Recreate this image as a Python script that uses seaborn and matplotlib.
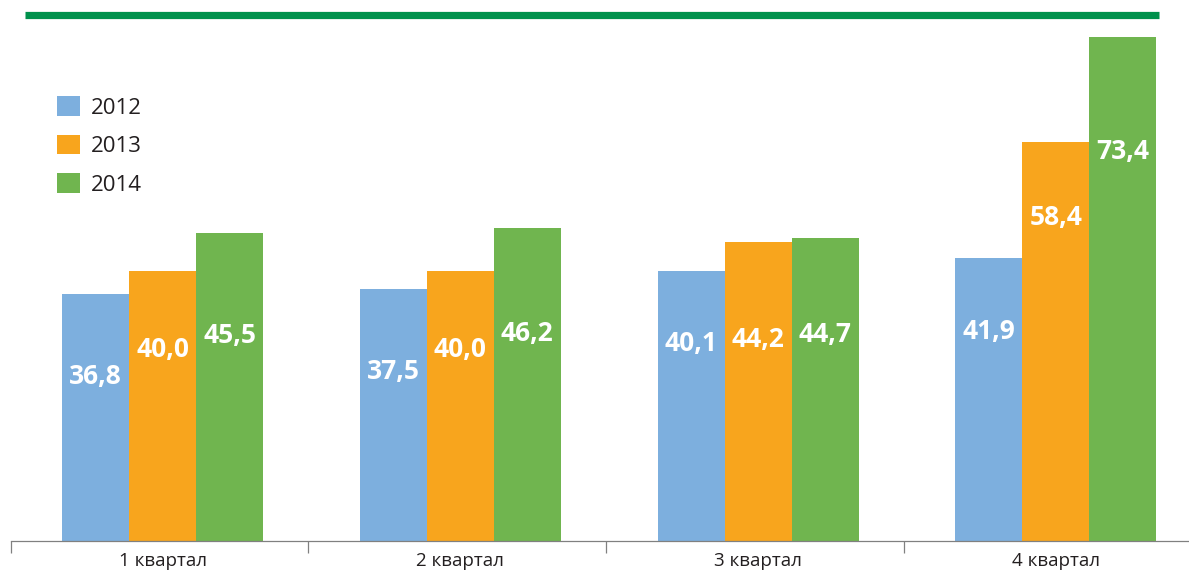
import matplotlib
matplotlib.use("Agg")
import matplotlib.pyplot as plt
from matplotlib.lines import Line2D
from matplotlib.patches import Patch
import seaborn as sns
import pandas as pd

# Quarterly values by year
quarters = ["1 квартал", "2 квартал", "3 квартал", "4 квартал"]
years = ["2012", "2013", "2014"]
values_2012 = [36.8, 37.5, 40.1, 41.9]
values_2013 = [40.0, 40.0, 44.2, 58.4]
values_2014 = [45.5, 46.2, 44.7, 73.4]

colors = ["#7DAFDE", "#F8A51D", "#70B54F"]
rule_color = "#00914C"

# Vertical placement of each value label: pixels below the bar top
label_drop = {
    "2012": [83, 83, 73, 74],
    "2013": [78, 78, 98, 75],
    "2014": [103, 106, 96, 114],
}

df = pd.DataFrame({
    "quarter": quarters * 3,
    "year": [y for y in years for _ in quarters],
    "value": values_2012 + values_2013 + values_2014,
})

sns.set_theme(style="white")
plt.rcParams["font.family"] = ["Open Sans", "DejaVu Sans"]

W, H = 1189, 570
fig = plt.figure(figsize=(W / 100, H / 100), dpi=100)
ax = fig.add_axes([0, 29 / H, 1, 541 / H])

sns.barplot(data=df, x="quarter", y="value", hue="year", order=quarters,
            hue_order=years, palette=colors, saturation=1, width=0.675,
            ax=ax, legend=False, errorbar=None, linewidth=0,
            edgecolor="none")

# Value axis starts slightly above zero
px_per_unit = 7.0
y_floor = 1.47
ax.set_ylim(y_floor, y_floor + 541 / px_per_unit)
group_px, first_center_px = 297.8, 162.5
ax.set_xlim(-first_center_px / group_px, (W - first_center_px) / group_px)

# Value labels inside the bars
for year, cont in zip(years, ax.containers):
    for i, bar in enumerate(cont):
        v = bar.get_height()
        ax.annotate(f"{v:.1f}".replace(".", ","),
                    xy=(bar.get_x() + bar.get_width() / 2, v),
                    xytext=(0, -label_drop[year][i]), textcoords="offset pixels",
                    ha="center", va="center", color="white",
                    fontsize=19, fontweight="bold")

# Axis styling: only a thin baseline with separators between quarters
for side in ["top", "left", "right"]:
    ax.spines[side].set_visible(False)
ax.spines["bottom"].set_color("#808080")
ax.spines["bottom"].set_linewidth(0.9)
ax.spines["bottom"].set_bounds(-0.51, ax.get_xlim()[1])
ax.set_yticks([])
ax.set_xlabel("")
ax.set_ylabel("")
ax.set_xticks(range(len(quarters)))
ax.set_xticklabels(quarters, fontsize=13.5, color="#231F20")
ax.tick_params(axis="x", which="major", length=0, pad=8)
ax.set_xticks([k - 0.51 for k in range(len(quarters))], minor=True)
ax.tick_params(axis="x", which="minor", bottom=True, direction="out",
               length=8.5, width=0.9, color="#808080")

# Legend
handles = [Patch(facecolor=c, edgecolor="none") for c in colors]
fig.legend(handles, years, loc="upper left",
           bbox_to_anchor=(57 / W, 1 - 96 / H), frameon=False,
           fontsize=16, handlelength=1.04, handleheight=1.0,
           handletextpad=0.5, labelspacing=0.72, borderpad=0,
           borderaxespad=0, labelcolor="#231F20")

# Green rule across the top
fig.add_artist(Line2D([25 / W, 1159 / W], [1 - 14.5 / H] * 2,
                      transform=fig.transFigure, color=rule_color,
                      linewidth=5.2, solid_capstyle="butt"))

fig.savefig("out.png", dpi=100)
